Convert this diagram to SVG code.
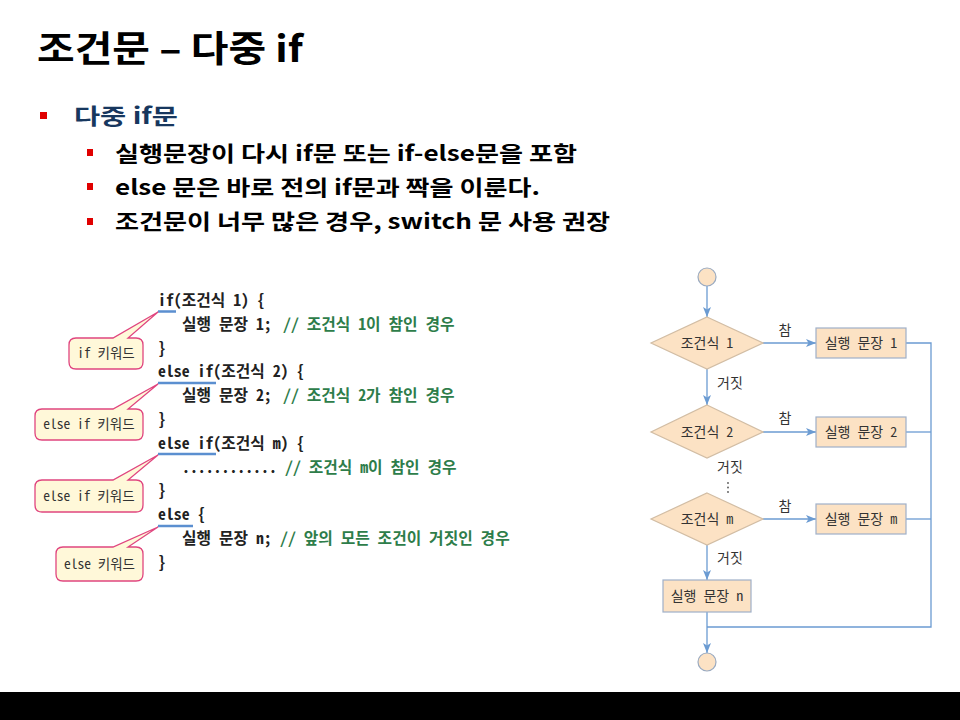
<svg xmlns="http://www.w3.org/2000/svg" width="960" height="720" viewBox="0 0 960 720">
  <style>
    .title { font-family: "Noto Sans CJK KR", "Liberation Sans", sans-serif; font-weight: bold; font-size: 36px; fill: #000; }
    .b1 { font-family: "Noto Sans CJK KR", "Liberation Sans", sans-serif; font-weight: bold; font-size: 22px; fill: #17375e; }
    .b2 { font-family: "Noto Sans CJK KR", "Liberation Sans", sans-serif; font-weight: bold; font-size: 21px; fill: #000; }
    .bullet { fill: #e00000; }
    .code { font-family: "Noto Sans Mono CJK KR", "Noto Sans CJK KR", monospace; font-size: 15.8px; font-weight: bold; fill: #222; }
    .cmt { fill: #2e7d4a; }
    .uline { stroke: #5b8fd0; stroke-width: 2.5; fill: none; }
    .callout { fill: #fff8d9; stroke: #e0457f; stroke-width: 1.3; }
    .ctext { font-family: "Noto Sans Mono CJK KR", "Noto Sans CJK KR", monospace; font-size: 13.5px; fill: #333; text-anchor: middle; }
    .shape { fill: #fce2c4; stroke: #9fb0c8; stroke-width: 1.2; }
    .dia { fill: #fce2c4; stroke: #d2bda4; stroke-width: 1.2; }
    .term { fill: #fce2c4; stroke: #9aaac0; stroke-width: 1.2; }
    .ftext { font-family: "Noto Sans Mono CJK KR", "Noto Sans CJK KR", monospace; font-size: 14px; fill: #333; text-anchor: middle; }
    .lbl { font-family: "Noto Sans CJK KR", "Liberation Sans", sans-serif; font-size: 14px; fill: #333; }
    .flow { stroke: #6b9bd2; stroke-width: 1.3; fill: none; }
    .arrow { stroke: #6b9bd2; stroke-width: 1.3; fill: none; marker-end: url(#ah); }
  </style>
  <defs>
    <marker id="ah" viewBox="0 0 10 8" refX="10" refY="4" markerWidth="10" markerHeight="8" markerUnits="userSpaceOnUse" orient="auto">
      <path d="M0,0 L10,4 L0,8 L2.5,4 Z" fill="#6b9bd2"/>
    </marker>
  </defs>

  <rect width="960" height="720" fill="#fff"/>

  <!-- heading and bullet list -->
  <g id="heading">
    <text class="title" x="37" y="62" textLength="266" lengthAdjust="spacingAndGlyphs">조건문 – 다중 if</text>
    <rect class="bullet" x="40" y="112" width="7" height="7"/>
    <text class="b1" x="74" y="124" textLength="104" lengthAdjust="spacingAndGlyphs">다중 if문</text>
    <rect class="bullet" x="87" y="149" width="6" height="7"/>
    <text class="b2" x="115" y="161" textLength="462" lengthAdjust="spacingAndGlyphs">실행문장이 다시 if문 또는 if-else문을 포함</text>
    <rect class="bullet" x="87" y="183" width="6" height="7"/>
    <text class="b2" x="115" y="195" textLength="425" lengthAdjust="spacingAndGlyphs">else 문은 바로 전의 if문과 짝을 이룬다.</text>
    <rect class="bullet" x="87" y="218" width="6" height="7"/>
    <text class="b2" x="115" y="229" textLength="495" lengthAdjust="spacingAndGlyphs">조건문이 너무 많은 경우, switch 문 사용 권장</text>
  </g>

  <!-- code listing -->
  <g id="code">
    <text class="code" x="158" y="306">if(조건식 1) {</text>
    <text class="code" x="182" y="330">실행 문장 1;</text>
    <text class="code cmt" x="283" y="330">// 조건식 1이 참인 경우</text>
    <text class="code" x="158" y="353.6">}</text>
    <text class="code" x="158" y="377.4">else if(조건식 2) {</text>
    <text class="code" x="182" y="401.2">실행 문장 2;</text>
    <text class="code cmt" x="283" y="401.2">// 조건식 2가 참인 경우</text>
    <text class="code" x="158" y="425">}</text>
    <text class="code" x="158" y="448.8">else if(조건식 m) {</text>
    <text class="code" x="182" y="472.6">............</text>
    <text class="code cmt" x="285" y="472.6">// 조건식 m이 참인 경우</text>
    <text class="code" x="158" y="496.4">}</text>
    <text class="code" x="158" y="520.2">else {</text>
    <text class="code" x="182" y="544">실행 문장 n;</text>
    <text class="code cmt" x="280" y="544">// 앞의 모든 조건이 거짓인 경우</text>
    <text class="code" x="158" y="567.8">}</text>
    <path class="uline" d="M158 311.5 H176 M158 383 H216 M158 454 H216 M158 526 H193"/>
  </g>

  <!-- keyword callouts -->
  <g id="callout-if">
    <path class="callout" d="M76 338 H113 L158 312 L128 338 H136 Q143 338 143 345 V362 Q143 369 136 369 H76 Q69 369 69 362 V345 Q69 338 76 338 Z"/>
    <text class="ctext" x="106" y="358">if 키워드</text>
  </g>
  <g id="callout-elseif-1">
    <path class="callout" d="M42 409 H113 L158 384 L128 409 H136 Q143 409 143 416 V433 Q143 440 136 440 H42 Q35 440 35 433 V416 Q35 409 42 409 Z"/>
    <text class="ctext" x="89" y="429">else if 키워드</text>
  </g>
  <g id="callout-elseif-2">
    <path class="callout" d="M42 480 H113 L158 455 L128 480 H136 Q143 480 143 487 V505 Q143 512 136 512 H42 Q35 512 35 505 V487 Q35 480 42 480 Z"/>
    <text class="ctext" x="89" y="500.5">else if 키워드</text>
  </g>
  <g id="callout-else">
    <path class="callout" d="M63 547 H113 L158 527 L128 547 H136 Q143 547 143 554 V574 Q143 581 136 581 H63 Q56 581 56 574 V554 Q56 547 63 547 Z"/>
    <text class="ctext" x="99.5" y="568.5">else 키워드</text>
  </g>

  <!-- flowchart connectors -->
  <g id="connectors">
    <path class="arrow" d="M707 286 V317"/>
    <path class="arrow" d="M763 343 H816"/>
    <path class="flow" d="M906 343 H931 V627 H707"/>
    <path class="arrow" d="M707 369 V405"/>
    <path class="arrow" d="M763 432 H816"/>
    <path class="flow" d="M906 432 H931"/>
    <path class="arrow" d="M763 519 H816"/>
    <path class="flow" d="M906 519 H931"/>
    <path class="arrow" d="M707 545 V580"/>
    <path class="arrow" d="M707 612 V653"/>
    <text class="lbl" x="785" y="335" text-anchor="middle">참</text>
    <text class="lbl" x="785" y="423" text-anchor="middle">참</text>
    <text class="lbl" x="785" y="511" text-anchor="middle">참</text>
    <text class="lbl" x="717" y="388">거짓</text>
    <text class="lbl" x="717" y="472">거짓</text>
    <text class="lbl" x="717" y="563">거짓</text>
    <g fill="#555">
      <circle cx="728" cy="483" r="0.9"/>
      <circle cx="728" cy="487.5" r="0.9"/>
      <circle cx="728" cy="492" r="0.9"/>
    </g>
  </g>

  <!-- flowchart nodes -->
  <g id="start">
    <circle class="term" cx="707" cy="277" r="9"/>
  </g>
  <g id="cond1">
    <polygon class="dia" points="707,317 763,343 707,369 651,343"/>
    <text class="ftext" x="707" y="348">조건식 1</text>
  </g>
  <g id="stmt1">
    <rect class="shape" x="816" y="328" width="90" height="30"/>
    <text class="ftext" x="861" y="348">실행 문장 1</text>
  </g>
  <g id="cond2">
    <polygon class="dia" points="707,405 763,432 707,458 651,432"/>
    <text class="ftext" x="707" y="437">조건식 2</text>
  </g>
  <g id="stmt2">
    <rect class="shape" x="816" y="417" width="90" height="30"/>
    <text class="ftext" x="861" y="437">실행 문장 2</text>
  </g>
  <g id="condm">
    <polygon class="dia" points="707,493 763,519 707,545 651,519"/>
    <text class="ftext" x="707" y="524">조건식 m</text>
  </g>
  <g id="stmtm">
    <rect class="shape" x="816" y="504" width="90" height="30"/>
    <text class="ftext" x="861" y="524">실행 문장 m</text>
  </g>
  <g id="stmtn">
    <rect class="shape" x="663" y="580" width="88" height="32"/>
    <text class="ftext" x="707" y="601">실행 문장 n</text>
  </g>
  <g id="end">
    <circle class="term" cx="707" cy="662" r="9"/>
  </g>

  <!-- footer band -->
  <rect x="0" y="692" width="960" height="28" fill="#000"/>
</svg>
